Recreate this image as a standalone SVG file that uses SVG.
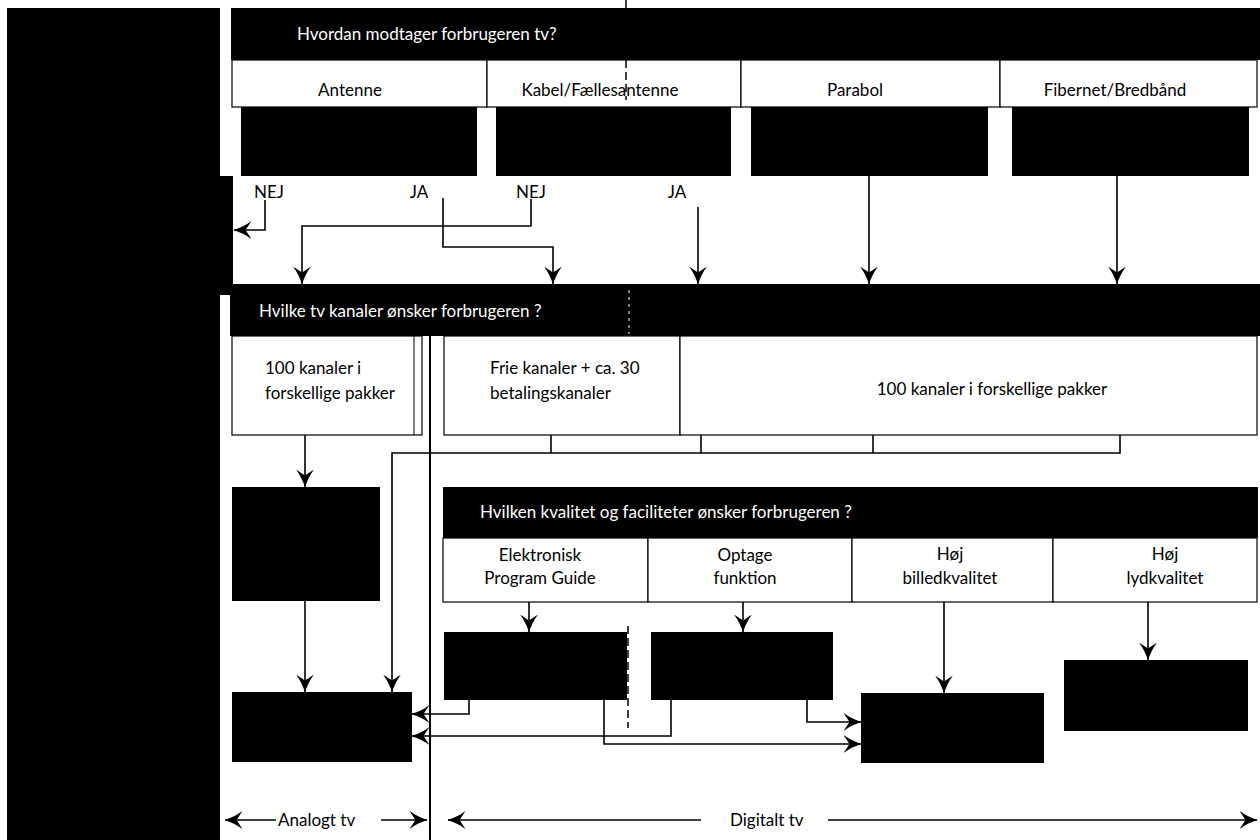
<svg xmlns="http://www.w3.org/2000/svg" width="1260" height="840" viewBox="0 0 1260 840">
<style>
  .blk{fill:#000}
  .box{fill:#fff;stroke:#000;stroke-width:1.2}
  .hd{fill:#fff;font-family:Lato,"Liberation Sans",sans-serif;font-size:17px}
  .t{fill:#000;font-family:Lato,"Liberation Sans",sans-serif;font-size:17px}
  .m{text-anchor:middle}
  .c{fill:none;stroke:#000;stroke-width:1.6}
  .art{fill:none;stroke:#000;stroke-width:1.5;stroke-dasharray:8 4}
</style>
<defs>
  <marker id="ah" viewBox="0 0 18 18" refX="17.5" refY="9" markerWidth="18" markerHeight="18" markerUnits="userSpaceOnUse" orient="auto">
    <path d="M0,0 Q8,6 18,9 Q8,12 0,18 L6,9 Z" fill="#000"/>
  </marker>
</defs>
<rect width="1260" height="840" fill="#fff"/>

<g id="left-panel">
  <rect class="blk" x="7" y="8" width="213" height="832"/>
  <rect class="blk" x="219" y="176" width="14" height="119"/>
</g>

<g id="q1">
  <rect class="blk" x="231" y="8" width="1029" height="52"/>
  <text class="hd" x="297" y="40">Hvordan modtager forbrugeren tv?</text>
</g>
<g id="antenne">
  <rect class="box" x="232" y="60" width="255" height="47"/>
  <text class="t m" x="350" y="96">Antenne</text>
  <rect class="blk" x="241" y="107" width="236" height="69"/>
</g>
<g id="kabel">
  <rect class="box" x="487" y="60" width="254" height="47"/>
  <text class="t m" x="600" y="96">Kabel/Fællesantenne</text>
  <rect class="blk" x="496" y="107" width="235" height="69"/>
</g>
<g id="parabol">
  <rect class="box" x="741" y="60" width="259" height="47"/>
  <text class="t m" x="855" y="96">Parabol</text>
  <rect class="blk" x="751" y="107" width="237" height="69"/>
</g>
<g id="fibernet">
  <rect class="box" x="1000" y="60" width="257" height="47"/>
  <text class="t m" x="1115" y="96">Fibernet/Bredbånd</text>
  <rect class="blk" x="1012" y="107" width="237" height="69"/>
</g>

<g id="labels">
  <text class="t m" x="269" y="198">NEJ</text>
  <text class="t m" x="419" y="198">JA</text>
  <text class="t m" x="531" y="198">NEJ</text>
  <text class="t m" x="677" y="198">JA</text>
</g>

<g id="q2">
  <rect class="blk" x="230" y="284" width="1030" height="52"/>
  <text class="hd" x="259" y="317">Hvilke tv kanaler ønsker forbrugeren ?</text>
</g>
<g id="k100a">
  <rect class="box" x="232" y="336" width="190" height="99"/>
  <line x1="414" y1="336" x2="414" y2="435" stroke="#000" stroke-width="1"/>
  <text class="t" x="265" y="374">100 kanaler i</text>
  <text class="t" x="265" y="399">forskellige pakker</text>
  <rect class="blk" x="232" y="487" width="148" height="114"/>
</g>
<g id="frie">
  <rect class="box" x="444" y="336" width="236" height="99"/>
  <text class="t" x="490" y="374">Frie kanaler + ca. 30</text>
  <text class="t" x="490" y="399">betalingskanaler</text>
</g>
<g id="k100b">
  <rect class="box" x="680" y="336" width="577" height="99"/>
  <text class="t m" x="992" y="395">100 kanaler i forskellige pakker</text>
</g>

<g id="q3">
  <rect class="blk" x="443" y="487" width="815" height="51"/>
  <text class="hd" x="480" y="518">Hvilken kvalitet og faciliteter ønsker forbrugeren ?</text>
</g>
<g id="epg">
  <rect class="box" x="443" y="538" width="205" height="64"/>
  <text class="t m" x="540" y="561">Elektronisk</text>
  <text class="t m" x="540" y="584">Program Guide</text>
  <rect class="blk" x="444" y="632" width="183" height="68"/>
</g>
<g id="optage">
  <rect class="box" x="648" y="538" width="204" height="64"/>
  <text class="t m" x="745" y="561">Optage</text>
  <text class="t m" x="745" y="584">funktion</text>
  <rect class="blk" x="651" y="632" width="182" height="68"/>
</g>
<g id="billed">
  <rect class="box" x="852" y="538" width="201" height="64"/>
  <text class="t m" x="950" y="560">Høj</text>
  <text class="t m" x="950" y="584">billedkvalitet</text>
  <rect class="blk" x="861" y="693" width="183" height="70"/>
</g>
<g id="lyd">
  <rect class="box" x="1053" y="538" width="204" height="64"/>
  <text class="t m" x="1165" y="560">Høj</text>
  <text class="t m" x="1165" y="584">lydkvalitet</text>
  <rect class="blk" x="1064" y="660" width="184" height="71"/>
</g>
<g id="analog-box">
  <rect class="blk" x="232" y="692" width="180" height="70"/>
</g>

<g id="divider">
  <line x1="430" y1="336" x2="430" y2="840" stroke="#000" stroke-width="2"/>
</g>

<g id="connectors">
  <polyline class="c" points="265,200 265,230 234,230" marker-end="url(#ah)"/>
  <polyline class="c" points="531,199 531,226 302,226 302,284" marker-end="url(#ah)"/>
  <polyline class="c" points="443,198 443,247 553,247 553,284" marker-end="url(#ah)"/>
  <line class="c" x1="698" y1="207" x2="698" y2="284" marker-end="url(#ah)"/>
  <line class="c" x1="869" y1="176" x2="869" y2="284" marker-end="url(#ah)"/>
  <line class="c" x1="1117" y1="176" x2="1117" y2="284" marker-end="url(#ah)"/>

  <line class="c" x1="305" y1="435" x2="305" y2="487" marker-end="url(#ah)"/>
  <line class="c" x1="305" y1="601" x2="305" y2="692" marker-end="url(#ah)"/>
  <polyline class="c" points="1120,435 1120,453 392,453 392,692" marker-end="url(#ah)"/>
  <line class="c" x1="551" y1="435" x2="551" y2="453"/>
  <line class="c" x1="701" y1="435" x2="701" y2="453"/>
  <line class="c" x1="873" y1="435" x2="873" y2="453"/>

  <line class="c" x1="529" y1="602" x2="529" y2="632" marker-end="url(#ah)"/>
  <line class="c" x1="743" y1="602" x2="743" y2="632" marker-end="url(#ah)"/>
  <line class="c" x1="944" y1="602" x2="944" y2="693" marker-end="url(#ah)"/>
  <line class="c" x1="1148" y1="602" x2="1148" y2="660" marker-end="url(#ah)"/>

  <polyline class="c" points="469,700 469,714 412,714" marker-end="url(#ah)"/>
  <polyline class="c" points="671,700 671,736 412,736" marker-end="url(#ah)"/>
  <polyline class="c" points="604,700 604,744 861,744" marker-end="url(#ah)"/>
  <polyline class="c" points="807,700 807,722 861,722" marker-end="url(#ah)"/>

  <line class="c" x1="276" y1="820" x2="225" y2="820" marker-end="url(#ah)"/>
  <line class="c" x1="381" y1="820" x2="427" y2="820" marker-end="url(#ah)"/>
  <line class="c" x1="701" y1="820" x2="448" y2="820" marker-end="url(#ah)"/>
  <line class="c" x1="828" y1="820" x2="1257" y2="820" marker-end="url(#ah)"/>
</g>

<g id="axis-labels">
  <text class="t" x="278" y="826">Analogt tv</text>
  <text class="t" x="730" y="826">Digitalt tv</text>
</g>

<g id="scan-marks">
  <line class="art" x1="626" y1="0" x2="626" y2="100"/>
  <line x1="629" y1="290" x2="629" y2="334" stroke="#fff" stroke-width="1" stroke-dasharray="3 4"/>
  <line class="art" x1="628" y1="626" x2="628" y2="728" stroke-width="2.5"/>
</g>
</svg>
